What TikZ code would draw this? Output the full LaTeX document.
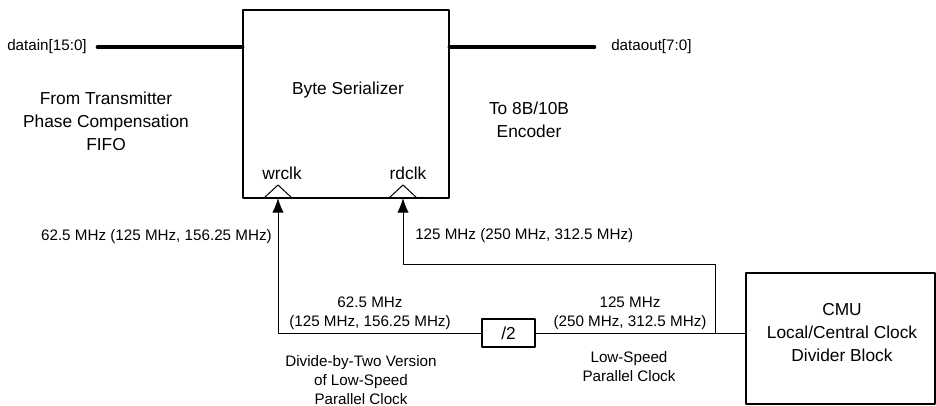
\documentclass[tikz,border=0pt]{standalone}
\usepackage{fontspec}
\setmainfont{Liberation Sans}
\usetikzlibrary{arrows.meta}

\begin{document}
\begin{tikzpicture}
    [>={Latex[length=11pt,width=8.5pt]},
    x=0.75pt, y=-0.75pt,
    line cap=round,
    line join=round,
    blk/.style={draw, line width=0.9pt, inner sep=0pt},
    bus/.style={line width=3pt},
    wire/.style={line width=0.75pt},
    big/.style={font=\fontsize{13}{17.25}\selectfont, align=center, inner sep=0pt},
    sml/.style={font=\fontsize{11.4}{14.25}\selectfont, align=center, inner sep=0pt}]

    \useasboundingbox (0,0) rectangle (936,406);

    % Bloecke
    \node[blk, minimum width=154.5pt, minimum height=141pt] (ser) at (346,104) {};
    \node[blk, minimum width=141.75pt, minimum height=98.25pt] (cmu) at (840.5,338.5) {};
    \node[blk, minimum width=39.75pt, minimum height=21pt, big] (div) at (508.5,333) {/2};

    \node[big] (sertxt) at (348,90) {Byte Serializer};
    \node[big] (cmutxt) at (842,333) {CMU\\Local/Central Clock\\Divider Block};
    \node[big] (wrtxt) at (282,173) {wrclk};
    \node[big] (rdtxt) at (408,173) {rdclk};

    % Datenpfade
    \node[sml, anchor=east] (din) at (87,47) {datain[15:0]};
    \node[sml, anchor=west] (dout) at (611,47) {dataout[7:0]};
    \draw[bus, shorten <=8pt] (din.east) -- (din.east -| ser.west);
    \draw[bus, shorten >=12.5pt] (ser.east |- dout.west) -- (dout.west);

    \node[big] (from) at (106,121) {From Transmitter\\Phase Compensation\\FIFO};
    \node[big] (to) at (529,120) {To 8B/10B\\Encoder};

    % Takteingaenge
    \coordinate (wrclk) at (278,198);
    \coordinate (rdclk) at (403,198);
    \foreach \c in {wrclk, rdclk}
        \draw[wire] ([xshift=-10.5pt]\c) -- ([yshift=9.75pt]\c) -- ([xshift=10.5pt]\c);

    % Taktleitungen
    \coordinate (tap) at (715,333);
    \draw[wire] (div.east) -- (div.east -| cmu.west);
    \draw[wire, ->] (div.west) -| (wrclk);
    \draw[wire, ->] (tap) -- ++(0,-68) -| (rdclk);

    \node[sml, anchor=east] (wrf) at (272,237) {62.5 MHz (125 MHz, 156.25 MHz)};
    \node[sml, anchor=west] (rdf) at (415,236) {125 MHz (250 MHz, 312.5 MHz)};
    \node[sml] (divf) at (370,313) {62.5 MHz\\(125 MHz, 156.25 MHz)};
    \node[sml] (cmuf) at (630,313) {125 MHz\\(250 MHz, 312.5 MHz)};
    \node[sml] (divn) at (361,380) {Divide-by-Two Version\\of Low-Speed\\Parallel Clock};
    \node[sml] (cmun) at (629,367) {Low-Speed\\Parallel Clock};
\end{tikzpicture}
\end{document}
